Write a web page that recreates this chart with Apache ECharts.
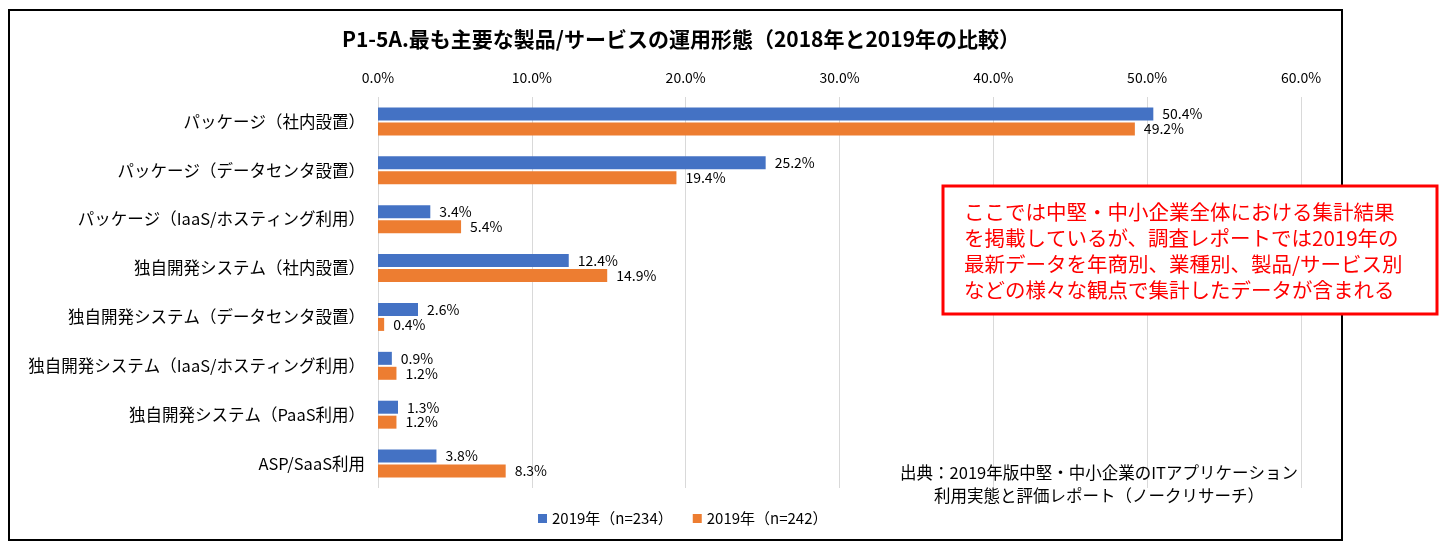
<!DOCTYPE html>
<html><head><meta charset="utf-8">
<script src="https://cdn.jsdelivr.net/npm/echarts@6/dist/echarts.min.js"></script>
<style>html,body{margin:0;padding:0;background:#fff}#c{width:1454px;height:547px}</style>
</head><body><div id="c"></div>
<script>
const titleText = 'P1-5A.最も主要な製品/サービスの運用形態（2018年と2019年の比較）';
const categories = [
  'パッケージ（社内設置）',
  'パッケージ（データセンタ設置）',
  'パッケージ（IaaS/ホスティング利用）',
  '独自開発システム（社内設置）',
  '独自開発システム（データセンタ設置）',
  '独自開発システム（IaaS/ホスティング利用）',
  '独自開発システム（PaaS利用）',
  'ASP/SaaS利用'
];
const seriesNames = ['2019年（n=234）', '2019年（n=242）'];
const valuesA = [50.4, 25.2, 3.4, 12.4, 2.6, 0.9, 1.3, 3.8];
const valuesB = [49.2, 19.4, 5.4, 14.9, 0.4, 1.2, 1.2, 8.3];
const noteLines = [
  'ここでは中堅・中小企業全体における集計結果',
  'を掲載しているが、調査レポートでは2019年の',
  '最新データを年商別、業種別、製品/サービス別',
  'などの様々な観点で集計したデータが含まれる'
];
const sourceLines = [
  '出典：2019年版中堅・中小企業のITアプリケーション',
  '利用実態と評価レポート（ノークリサーチ）'
];

const FONT = '"Noto Sans CJK JP", "Noto Sans", sans-serif';
const chart = echarts.init(document.getElementById('c'));
const labelCfg = {
  show: true, position: 'right', distance: 9,
  formatter: p => p.value.toFixed(1) + '%',
  fontSize: 14, color: '#000', fontFamily: FONT
};
chart.setOption({
  animation: false,
  textStyle: { fontFamily: FONT },
  title: {
    text: titleText, left: 676, textAlign: 'center', top: 24,
    textStyle: { fontSize: 21, fontWeight: 'bold', color: '#000', fontFamily: FONT }
  },
  legend: {
    data: seriesNames, bottom: 16, left: 533,
    itemWidth: 9, itemHeight: 9, itemGap: 20, icon: 'rect',
    textStyle: { fontSize: 15, color: '#000', fontFamily: FONT }
  },
  grid: { left: 378, right: 153, top: 97, bottom: 59, containLabel: false },
  xAxis: {
    type: 'value', position: 'top', min: 0, max: 60, interval: 10,
    axisLabel: { formatter: v => v.toFixed(1) + '%', fontSize: 14, color: '#000', margin: 12 },
    axisLine: { show: false }, axisTick: { show: false },
    splitLine: { lineStyle: { color: '#d9d9d9', width: 1 } }
  },
  yAxis: {
    type: 'category', data: categories, inverse: true,
    axisLine: { show: false }, axisTick: { show: false },
    axisLabel: { fontSize: 16.5, color: '#000', margin: 13 }
  },
  series: [
    { name: seriesNames[0], type: 'bar', data: valuesA, barWidth: 13, barGap: '15%',
      itemStyle: { color: '#4472C4' }, label: labelCfg },
    { name: seriesNames[1], type: 'bar', data: valuesB, barWidth: 13, barGap: '15%',
      itemStyle: { color: '#ED7D31' }, label: labelCfg }
  ],
  graphic: [
    { type: 'rect', shape: { x: 9, y: 10, width: 1333, height: 530 },
      style: { fill: 'none', stroke: '#000', lineWidth: 2 }, z: 100 },
    { type: 'rect', shape: { x: 943, y: 186, width: 494, height: 128 },
      style: { fill: '#fff', stroke: '#ff0000', lineWidth: 3 }, z: 110 },
    { type: 'text', left: 964, top: 199, z: 111,
      style: { text: noteLines.join('\n'), fill: '#ff0000', fontSize: 20.5, lineHeight: 26, fontFamily: FONT } },
    { type: 'text', x: 1099, y: 461, z: 111,
      style: { text: sourceLines.join('\n'), fill: '#000', fontSize: 16.5, lineHeight: 23, align: 'center', fontFamily: FONT } }
  ]
});
</script></body></html>
